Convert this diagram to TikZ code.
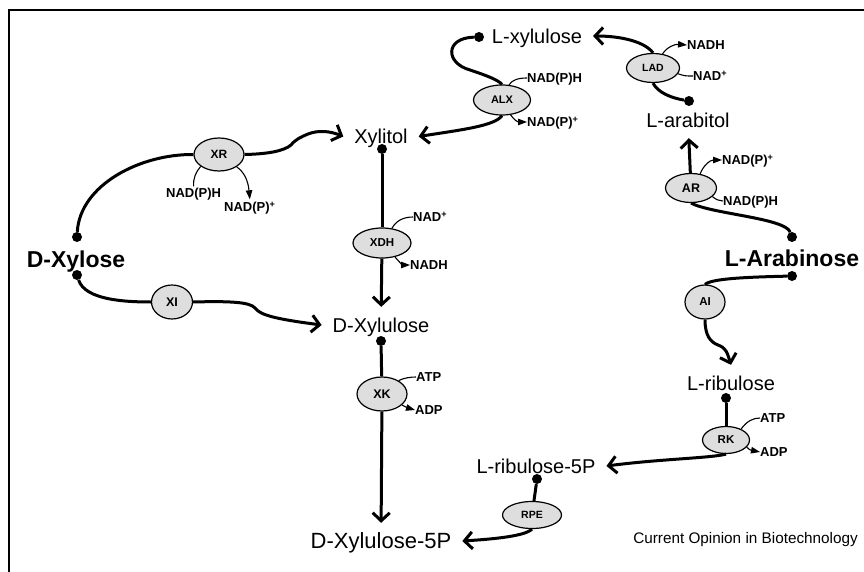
\documentclass[tikz,border=0pt]{standalone}
\usepackage{fontspec}
\setmainfont{Liberation Sans}
\usetikzlibrary{shapes.geometric,arrows.meta}
\begin{document}
\begin{tikzpicture}
[x=1pt,y=-1pt,
  enzymedecorate/.style={shape=ellipse,draw,line width=1.2pt,fill=black!13,
    inner sep=0pt,font=\fontsize{11}{12}\selectfont\bfseries},
  sugardecorate/.style={inner sep=0pt,outer sep=11pt,text height=14.3pt,
    text depth=0pt,font=\fontsize{20}{24}\selectfont},
  boldsugardecorate/.style={sugardecorate,text height=16pt,
    font=\fontsize{23}{26}\selectfont\bfseries},
  cofactordecorate/.style={anchor=west,inner sep=0pt,text height=9pt,
    text depth=0pt,font=\fontsize{13}{14}\selectfont\bfseries},
  dotdecorate/.style={shape=circle,fill,inner sep=0pt,minimum size=10pt},
  linedecorate/.style={line width=3pt},
  flowdecorate/.style={linedecorate,-{Straight Barb[length=8pt,width=17pt]}},
  sidedecorate/.style={line width=1.1pt},
  sidearrowdecorate/.style={sidedecorate,-{Triangle[length=9pt,width=6.5pt]}}]
\useasboundingbox (0,0) rectangle (864,572);
%% frame
\draw[line width=1.6pt] (9,572) -- (9,10) -- (864,10);
%% sugars
\foreach \nodename/\x/\y/\molname in {xylitol/381/136.5/Xylitol,
  lxylulose/537/36/L-xylulose, larabitol/688/120/L-arabitol,
  dxylulose/381/325/D-Xylulose, lribulose/731/383/L-ribulose,
  lribfive/536/466/L-ribulose-5P}
{
  \node (\nodename) at (\x,\y) [sugardecorate] {\molname};
}
\node (dxylulosefive) at (381,541) [sugardecorate,font=\fontsize{22}{26}\selectfont] {D-Xylulose-5P};
\node (dxylose) at (76,259.5) [boldsugardecorate] {D-Xylose};
\node (larabinose) at (792,258) [boldsugardecorate] {L-Arabinose};
%% dots
\foreach \nodename/\x/\y in {dxyloseup/77/237, dxylosedown/77/275,
  xylitoldot/382/149, lxyludot/479/37, larabdot/689/101,
  larabinup/792/237, larabindown/792/276, dxyludot/381/341,
  lribdot/726/398, lribfivedot/537/479}
{
  \node (\nodename) at (\x,\y) [dotdecorate] {};
}
%% enzymes
\foreach \nodename/\x/\y/\w/\h/\fs/\enzname in {xr/219/154.5/50/33/12/XR,
  xi/172/302/41/34/12.5/XI, alx/502/100/57/30/11/ALX, xdh/382/243/58/30/11.5/XDH,
  xk/382/394/50/34/12.5/XK, rpe/532/515/59/27/10.5/RPE, rk/726/440/47/27/11.5/RK,
  ai/705/302/40/34/11.5/AI, ar/691/188/51/29/12.5/AR, lad/653/68/53/29/10.5/LAD}
{
  \node (\nodename) at (\x,\y) [enzymedecorate,minimum width=\w pt,
    minimum height=\h pt,font=\fontsize{\fs}{12}\selectfont\bfseries] {\enzname};
}
%% cofactors
\foreach \nodename/\x/\y/\cofname in {xrin/166/193/NAD(P)H,
  xrout/224/207/{NAD(P)\textsuperscript{+}}, alxin/527/78/NAD(P)H,
  alxout/527/122/{NAD(P)\textsuperscript{+}}, xdhin/413/217/{NAD\textsuperscript{+}},
  xdhout/410/265/NADH, xkin/416/377/ATP, xkout/415/410/ADP,
  rkin/760/418/ATP, rkout/760/452/ADP, arin/723/201/NAD(P)H,
  arout/722/160/{NAD(P)\textsuperscript{+}}, ladin/693/76/{NAD\textsuperscript{+}},
  ladout/687/45/NADH}
{
  \node (\nodename) at (\x,\y) [cofactordecorate] {\cofname};
}
\node (credit) at (858,543) [anchor=base east,inner sep=0pt,
  font=\fontsize{15.3}{18}\selectfont] {Current Opinion in Biotechnology};
%% D-xylose routes
\draw[linedecorate] (dxyloseup) .. controls (80,185) and (140,154) .. (xr.west);
\draw[flowdecorate] (xr.east) .. controls (268,154) and (284,151) .. (291,145)
  .. controls (296,139) and (301,137) .. (308,134)
  .. controls (318,130) and (330,131) .. (xylitol.west);
\draw[linedecorate] (dxylosedown) .. controls (85,300) and (125,302) .. (xi.west);
\draw[flowdecorate] (xi.east) .. controls (230,301) and (250,302) .. (255,308)
  .. controls (260,315) and (275,319) .. (dxylulose.west);
\draw[linedecorate] (xylitoldot) -- (xdh);
\draw[flowdecorate] (xdh) -- (dxylulose);
\draw[linedecorate] (dxyludot) -- (xk);
\draw[flowdecorate] (xk) -- (dxylulosefive);
%% L-arabinose routes
\draw[linedecorate] (larabinup) .. controls (785,218) and (712,214) .. (ar.south);
\draw[flowdecorate] (ar) -- (larabitol);
\draw[linedecorate] (larabdot) .. controls (672,98) and (658,93) .. (lad.south);
\draw[flowdecorate] (lad.north) .. controls (645,42) and (622,36) .. (lxylulose.east);
\draw[linedecorate] (lxyludot) .. controls (445,38) and (445,63) .. (470,70)
  .. controls (488,76) and (498,80) .. (alx.north);
\draw[flowdecorate] (alx.south) .. controls (495,126) and (460,130) .. (xylitol.east);
\draw[linedecorate] (larabindown) .. controls (755,277) and (712,278) .. (ai.north);
\draw[flowdecorate] (ai.south) .. controls (705,335) and (710,342) .. (718,345)
  .. controls (726,348) and (727,352) .. (lribulose.north);
\draw[linedecorate] (lribdot) -- (rk);
\draw[flowdecorate] (rk.south) .. controls (712,458) and (660,459) .. (lribfive.east);
\draw[linedecorate] (lribfivedot) -- (rpe);
\draw[flowdecorate] (rpe.south) .. controls (525,536) and (495,539) .. (dxylulosefive.east);
%% cofactor lines
\draw[sidedecorate] (xr.213) .. controls (196,172) and (193,178) .. ([yshift=2pt]xrin.north);
\draw[sidearrowdecorate] (xr.325) .. controls (244,172) and (248,180) .. ([yshift=3pt]xrout.north);
\draw[sidedecorate] (alx.65) .. controls (512,80) and (518,78) .. (alxin.west);
\draw[sidearrowdecorate] (alx.300) .. controls (514,120) and (518,122) .. (alxout.west);
\draw[sidedecorate] (xdh.56) .. controls (396,221) and (403,217) .. (xdhin.west);
\draw[sidearrowdecorate] (xdh.313) .. controls (399,262) and (403,265) .. (xdhout.west);
\draw[sidedecorate] (xk.39) .. controls (404,378) and (410,377) .. (xkin.west);
\draw[sidearrowdecorate] (xk.331) .. controls (408,408) .. (xkout.west);
\draw[sidedecorate] (rk.36) .. controls (747,421) and (753,418) .. (rkin.west);
\draw[sidearrowdecorate] (rk.341) .. controls (750,450) .. (rkout.west);
\draw[sidearrowdecorate] (ar.57) .. controls (703,166) and (710,160) .. (arout.west);
\draw[sidedecorate] (ar.338) .. controls (717,200) .. (arin.west);
\draw[sidearrowdecorate] (lad.56) .. controls (667,47) and (675,44) .. (ladout.west);
\draw[sidedecorate] (lad.347) .. controls (685,76) .. (ladin.west);
\end{tikzpicture}
\end{document}
